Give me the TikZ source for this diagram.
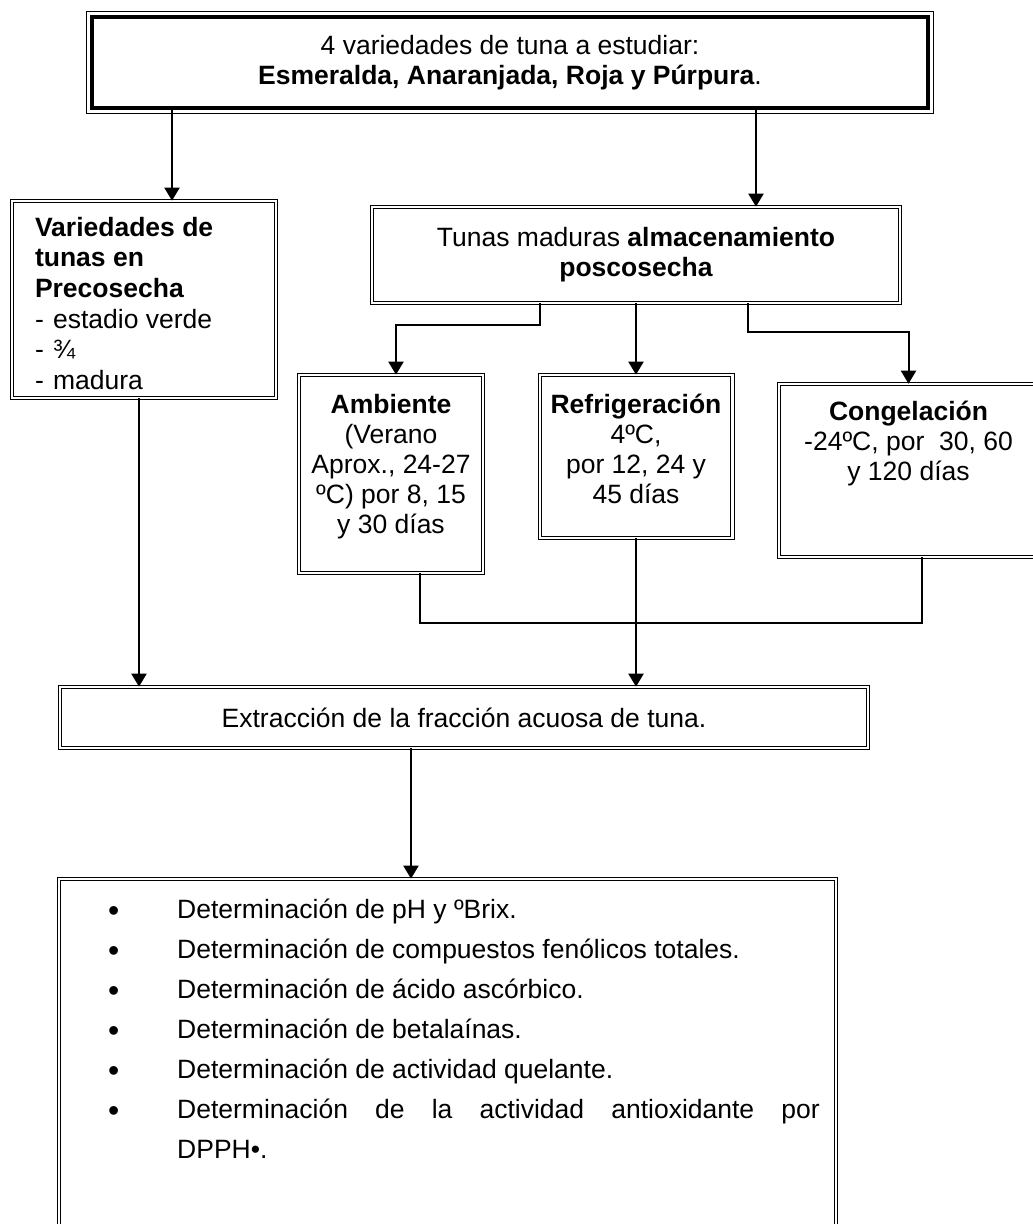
\documentclass[tikz,border=0pt]{standalone}
\usepackage{fontspec}
\setmainfont{Liberation Sans}
\usepackage{tikz}
\usetikzlibrary{arrows.meta}

\newcommand{\boxtext}[4]{\parbox[c][#2][t]{#1}{\vspace*{#3}#4}}
\newcommand{\bitem}[1]{\par\hangindent=34.5pt\hangafter=1\noindent
  \makebox[34.5pt][l]{\raisebox{-1.6pt}{\fontsize{16}{16}\selectfont\textbullet}}#1}

\begin{document}
\begin{tikzpicture}
  [
    x=0.5pt, y=-0.5pt,
    font=\fontsize{13.25}{15}\selectfont,
    box/.style={draw, double, line width=0.5pt, double distance=1.2pt,
      inner sep=0pt},
    topbox/.style={draw, line width=2pt, inner sep=0pt, align=center},
    arr/.style={line width=1pt, -{Triangle[width=7.5pt,length=6.5pt]}},
    link/.style={line width=1pt}
  ]
  \useasboundingbox (0,0) rectangle (1032,1224);

  \node (top) at (510,62.5) [topbox, minimum width=418pt, minimum height=45.5pt,
    font=\fontsize{13.25}{15}\selectfont]
    {4 variedades de tuna a estudiar:\\ \textbf{Esmeralda, Anaranjada, Roja y P\'urpura}.};
  \draw [line width=0.5pt] ([shift={(-1.75pt,1.75pt)}]top.north west)
    rectangle ([shift={(1.75pt,-1.75pt)}]top.south east);

  \node (lvar) at (144,299.5) [box] {\boxtext{132pt}{98.3pt}{8pt}{%
    \fontsize{13.25}{15.3}\selectfont\raggedright\leftskip=11.5pt
    \textbf{Variedades de\\tunas en\\Precosecha}\\
    -\hspace{.35em}estadio verde\\-\hspace{.35em}¾\\-\hspace{.35em}madura}};
  \node (tunas) at (636,255) [box, align=center, minimum width=264pt, minimum height=47.8pt]
    {Tunas maduras \textbf{almacenamiento}\\ \textbf{poscosecha}};
  \node (amb) at (391,474) [box] {\boxtext{91.8pt}{98.8pt}{9.5pt}{\centering
    \textbf{Ambiente}\\(Verano\\Aprox., 24-27\\ºC) por 8, 15\\y 30 días}};
  \node (refr) at (636,456.5) [box] {\boxtext{96.3pt}{81.3pt}{9.5pt}{\centering
    \textbf{Refrigeración}\\4ºC,\\por 12, 24 y\\45 días}};
  \node (cong) at (908.5,470.5) [box] {\boxtext{129.3pt}{86.3pt}{8.5pt}{\centering
    \textbf{Congelación}\\-24ºC, por\ \ 30, 60\\y 120 días}};
  \node (extr) at (464,717.5) [box, minimum width=403.8pt, minimum height=30.3pt]
    {Extracción de la fracción acuosa de tuna.};
  \node (list) at (447.5,1068.5) [box] {\boxtext{388.3pt}{189.3pt}{10pt}{%
    \fontsize{13.25}{20}\selectfont\leftskip=24.5pt\rightskip=8pt
    \bitem{Determinación de pH y ºBrix.}
    \bitem{Determinación de compuestos fenólicos totales.}
    \bitem{Determinación de ácido ascórbico.}
    \bitem{Determinación de betalaínas.}
    \bitem{Determinación de actividad quelante.}
    \bitem{Determinación de la actividad antioxidante por\linebreak DPPH•.}\par}};

  \draw [arr] ([xshift=14pt]lvar.north |- top.south) -- ([xshift=14pt]lvar.north);
  \draw [arr] ([xshift=60pt]tunas.north |- top.south) -- ([xshift=60pt]tunas.north);
  \draw [arr] ([xshift=-48pt]tunas.south) -- ++(0,22) -| ([xshift=2.5pt]amb.north);
  \draw [arr] (tunas.south) -- (tunas.south |- refr.north);
  \draw [arr] ([xshift=56pt]tunas.south) -- ++(0,29) -| (cong.north);
  \draw [link] ([xshift=14.5pt]amb.south) -- ++(0,50) -| ([xshift=6.75pt]cong.south);
  \draw [arr] (refr.south) -- (refr.south |- extr.north);
  \draw [arr] ([xshift=-2.5pt]lvar.south) -- ([xshift=-2.5pt]lvar.south |- extr.north);
  \draw [arr] ([xshift=-26.5pt]extr.south) -- ([xshift=-26.5pt]extr.south |- list.north);
\end{tikzpicture}
\end{document}
